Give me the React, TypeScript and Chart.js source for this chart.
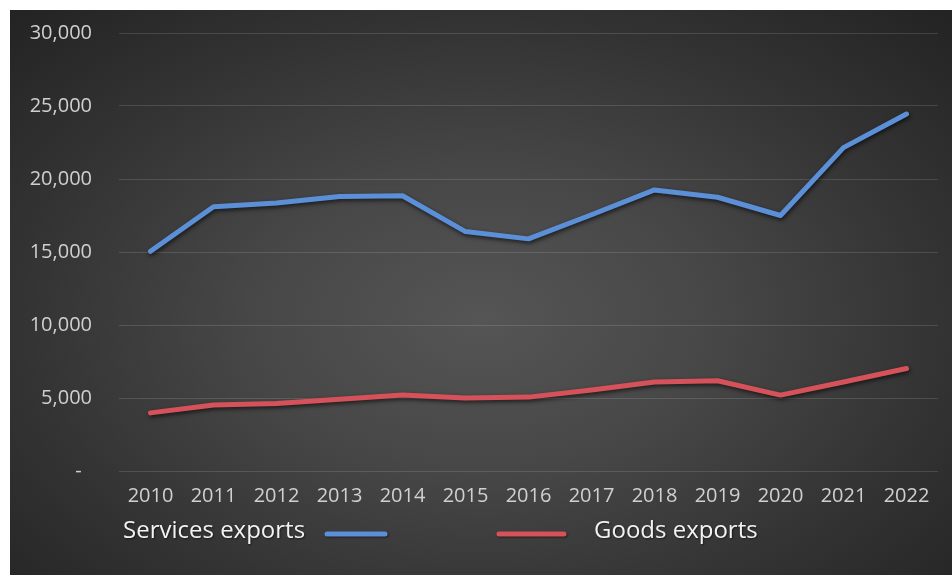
import React, { useEffect, useRef } from "react";
import { Chart, registerables } from "chart.js";

Chart.register(...registerables);

const years = ["2010", "2011", "2012", "2013", "2014", "2015", "2016", "2017", "2018", "2019", "2020", "2021", "2022"];
const servicesExports = [15050, 18100, 18350, 18800, 18850, 16400, 15900, 17550, 19250, 18750, 17500, 22150, 24450];
const goodsExports = [3980, 4520, 4620, 4920, 5200, 5000, 5060, 5550, 6100, 6180, 5200, 6100, 7020];
const seriesNames = ["Services exports", "Goods exports"];
const seriesColors = ["#5b90d8", "#d6525a"];
const yMin = 0;
const yMax = 30000;
const yStep = 5000;

const FONT = "'Open Sans', 'Noto Sans', sans-serif";

const shadowPlugin = {
  id: "lineShadow",
  beforeDatasetDraw(chart: any) {
    const ctx = chart.ctx;
    ctx.save();
    ctx.shadowColor = "rgba(0,0,0,0.65)";
    ctx.shadowBlur = 4;
    ctx.shadowOffsetX = 1;
    ctx.shadowOffsetY = 2;
  },
  afterDatasetDraw(chart: any) {
    chart.ctx.restore();
  },
};

const customLegend = {
  id: "customLegend",
  afterDraw(chart: any) {
    const ctx = chart.ctx;
    const ds = chart.data.datasets;
    const y = 521;
    ctx.save();
    ctx.font = `24px ${FONT}`;
    ctx.fillStyle = "#f2f2f2";
    ctx.textBaseline = "middle";
    ctx.shadowColor = "rgba(0,0,0,0.5)";
    ctx.shadowBlur = 2;
    ctx.shadowOffsetX = 1;
    ctx.shadowOffsetY = 1;
    ctx.textAlign = "left";
    ctx.fillText(ds[0].label, 113, y);
    ctx.fillText(ds[1].label, 584, y);
    ctx.lineCap = "round";
    ctx.lineWidth = 5;
    ctx.strokeStyle = ds[0].borderColor;
    ctx.beginPath();
    ctx.moveTo(317, y + 3);
    ctx.lineTo(375, y + 3);
    ctx.stroke();
    ctx.strokeStyle = ds[1].borderColor;
    ctx.beginPath();
    ctx.moveTo(489, y + 3);
    ctx.lineTo(554, y + 3);
    ctx.stroke();
    ctx.restore();
  },
};

export default function App() {
  const ref = useRef<HTMLCanvasElement | null>(null);
  useEffect(() => {
    if (!ref.current) return;
    const chart = new Chart(ref.current, {
      type: "line",
      data: {
        labels: years,
        datasets: [
          {
            label: seriesNames[0],
            data: servicesExports,
            borderColor: seriesColors[0],
            backgroundColor: seriesColors[0],
            borderWidth: 5,
            pointRadius: 0,
            tension: 0,
            borderCapStyle: "round",
            borderJoinStyle: "round",
          },
          {
            label: seriesNames[1],
            data: goodsExports,
            borderColor: seriesColors[1],
            backgroundColor: seriesColors[1],
            borderWidth: 5,
            pointRadius: 0,
            tension: 0,
            borderCapStyle: "round",
            borderJoinStyle: "round",
          },
        ],
      },
      options: {
        animation: false,
        responsive: false,
        maintainAspectRatio: false,
        layout: { padding: { left: 0, right: 14, top: 23, bottom: 64 } },
        plugins: { legend: { display: false }, tooltip: { enabled: false } },
        scales: {
          x: {
            offset: true,
            grid: { display: false, drawTicks: false },
            border: { display: false },
            ticks: { color: "#d0d0d0", font: { family: FONT, size: 20 }, padding: 13, maxRotation: 0, autoSkip: false },
            afterFit(scale: any) {
              scale.height = 40;
              scale.paddingLeft = 0;
              scale.paddingRight = 0;
            },
          },
          y: {
            min: yMin,
            max: yMax,
            grid: { color: "rgba(255,255,255,0.13)", drawTicks: false, lineWidth: 1 },
            border: { display: false },
            ticks: {
              stepSize: yStep,
              color: "#d0d0d0",
              font: { family: FONT, size: 20 },
              padding: 27,
              callback: (v: any) => (Number(v) === 0 ? "-  " : Number(v).toLocaleString("en-US")),
            },
            afterFit(scale: any) {
              scale.width = 109;
              scale.paddingTop = 0;
              scale.paddingBottom = 0;
            },
          },
        },
      },
      plugins: [shadowPlugin, customLegend],
    });
    return () => chart.destroy();
  }, []);

  return (
    <div
      style={{
        position: "absolute",
        left: 10,
        top: 10,
        width: 942,
        height: 565,
        background:
          "radial-gradient(ellipse 70% 75% at 50% 55%, #555555 0%, #474747 35%, #333333 70%, #242424 100%)",
      }}
    >
      <canvas ref={ref} width={942} height={565} style={{ width: 942, height: 565, display: "block" }} />
    </div>
  );
}
